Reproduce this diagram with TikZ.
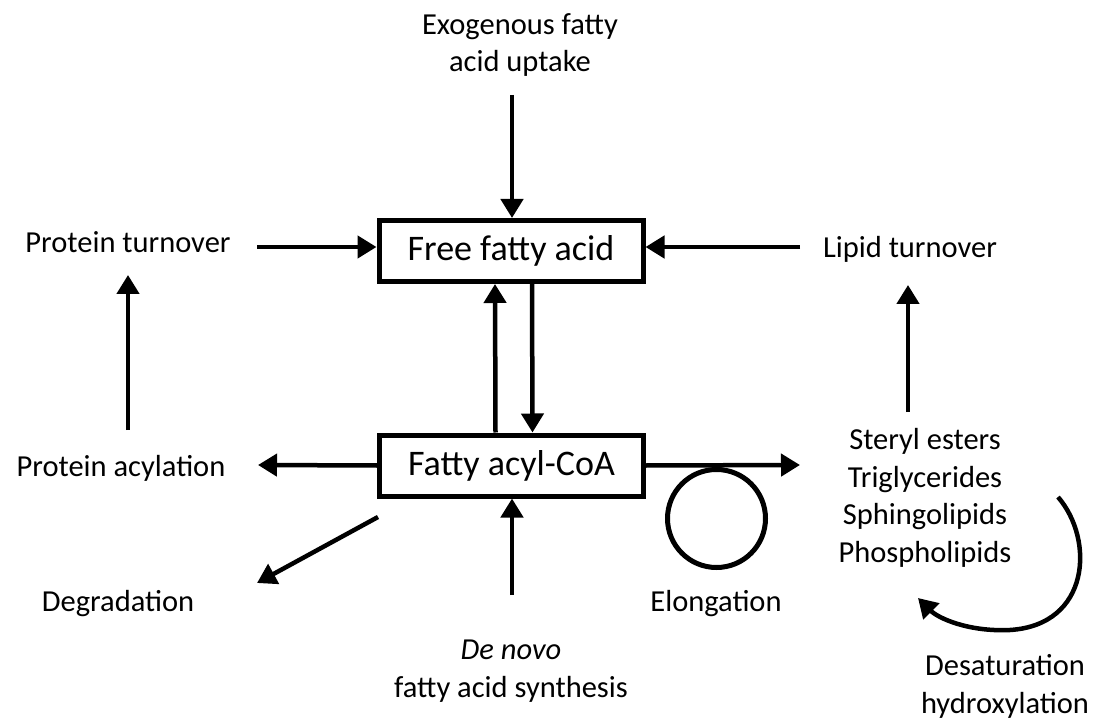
\documentclass[tikz,border=0pt]{standalone}
\usepackage{fontspec}
\setmainfont{Carlito}
\usetikzlibrary{arrows.meta}
\tikzset{
  boxnode/.style={draw, line width=5pt, minimum width=264pt, minimum height=61pt, inner sep=0pt, font=\fontsize{36}{43}\selectfont},
  lbl/.style={inner sep=0pt, anchor=base, align=center, font=\fontsize{30.5}{37.5}\selectfont},
  arr/.style={line width=4.5pt, -{Triangle[length=19pt,width=22pt]}},
}
\begin{document}
\begin{tikzpicture}[x=1pt,y=-1pt]
\useasboundingbox (0,0) rectangle (1098,719);
% boxes
\node[boxnode] (ffa) at (511,251) {Free fatty acid};
\node[boxnode] (fac) at (511.5,465.5) {Fatty acyl-CoA};
% labels (base anchor = baseline of last line)
\node[lbl] (exo) at (520,72) {Exogenous fatty\\acid uptake};
\node[lbl] (pturn) at (128,253) {Protein turnover};
\node[lbl] (lturn) at (910,258) {Lipid turnover};
\node[lbl] (pacyl) at (121,476) {Protein acylation};
\node[lbl] (degr) at (118,611) {Degradation};
\node[lbl] (lipids) at (925,562) {Steryl esters\\Triglycerides\\Sphingolipids\\Phospholipids};
\node[lbl] (elong) at (716,611) {Elongation};
\node[lbl] (denovo) at (511,697) {\textit{De novo}\\fatty acid synthesis};
\node[lbl] (desat) at (1005,713) {Desaturation\\hydroxylation};
% free ends
\coordinate (exoS) at (512,95);
\coordinate (ptE) at (257,247);
\coordinate (ltW) at (800,247);
\coordinate (paE) at (258,465);
\coordinate (lipW) at (800,465);
\coordinate (degS) at (378,517);
\coordinate (degT) at (257,583);
\coordinate (dnN) at (512,595);
\coordinate (paN) at (128,430);
\coordinate (ptS) at (128,275);
\coordinate (lipN) at (908,412);
\coordinate (ltS) at (908,285);
\coordinate (cvS) at (1058,497);
\coordinate (cvE) at (918,598);
% connectors
\draw[arr] (exoS) -- (exoS |- ffa.north);
\draw[arr] (ptE) -- (ptE -| ffa.west);
\draw[arr] (ltW) -- (ltW -| ffa.east);
\draw[arr] ([xshift=-16pt]fac.north) -- ([xshift=-16pt]ffa.south);
\draw[arr] ([xshift=21pt]ffa.south) -- ([xshift=21pt]fac.north);
\draw[arr] (fac.west) -- (paE);
\draw[arr] (fac.east) -- (lipW);
\draw[arr] (degS) -- (degT);
\draw[arr] (dnN) -- (dnN |- fac.south);
\draw[arr] (paN) -- (ptS);
\draw[arr] (lipN) -- (ltS);
\draw[line width=5pt] (716.5,518.5) circle[radius=49];
\draw[arr] (cvS) .. controls (1095,540) and (1090,625) .. (1010,630) .. controls (968,632) and (938,618) .. (cvE);
\end{tikzpicture}
\end{document}
